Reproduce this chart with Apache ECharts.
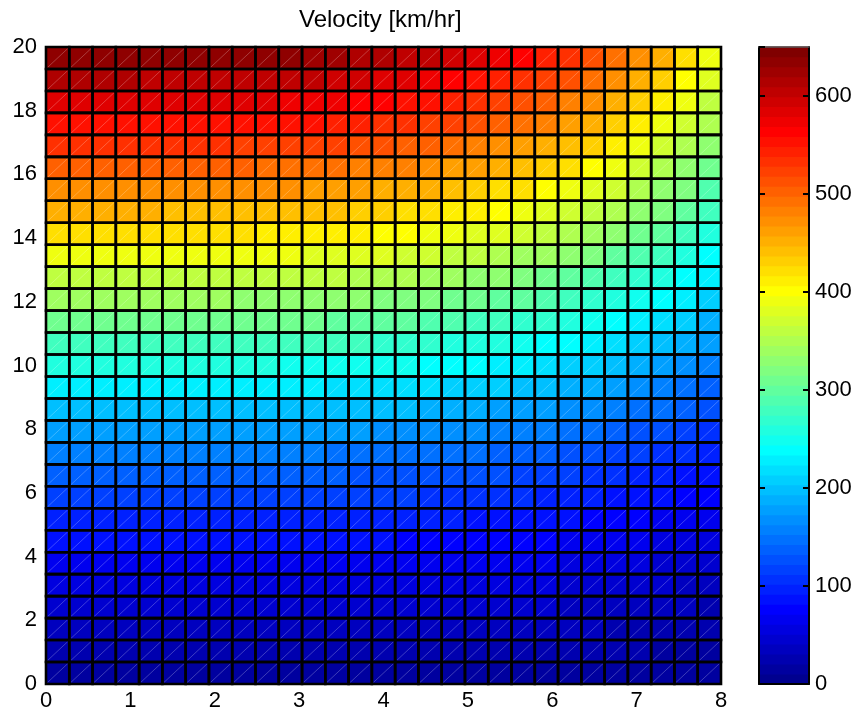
<!DOCTYPE html>
<html><head><meta charset="utf-8">
<script src="https://cdn.jsdelivr.net/npm/echarts@6/dist/echarts.min.js"></script>
<style>html,body{margin:0;padding:0;background:#fff}#c{width:858px;height:715px}</style>
</head><body><div id="c"></div>
<script>
const titleText = 'Velocity [km/hr]';
const xRange = [0, 8];
const yRange = [0, 20];
const colorRange = [0, 650];
const xTickStep = 1;
const yTickStep = 2;
const colorTickStep = 100;
const nCols = 29;
const nRows = 29;
// Velocity per cell, rows from bottom (y=0) to top (y=20), 29 cells each from x=0 to x=8
const velocityRows = [
[20,20,20,20,20,20,20,20,20,20,20,20,20,19,19,19,19,19,18,18,18,17,17,16,16,15,14,13,12],
[29,29,29,29,29,29,29,29,29,29,29,29,28,28,28,28,27,27,27,26,25,25,24,23,23,22,20,19,18],
[38,38,38,38,38,38,38,38,38,38,38,37,37,37,37,36,36,35,35,34,33,33,32,31,29,28,27,25,24],
[48,48,48,48,48,48,48,48,48,48,47,47,47,47,46,46,45,45,44,43,42,41,40,39,37,36,34,32,30],
[59,59,59,59,59,59,59,59,59,58,58,58,58,57,57,56,56,55,54,53,52,51,49,47,46,44,42,39,37],
[71,71,71,71,71,71,71,71,71,70,70,70,69,69,68,68,67,66,65,64,62,61,59,57,55,53,50,47,44],
[85,85,85,85,85,85,85,85,84,84,84,84,83,82,82,81,80,79,78,76,75,73,71,68,66,63,60,57,53],
[100,100,100,100,100,100,100,100,99,99,99,98,98,97,96,95,94,93,91,90,88,86,83,81,78,74,71,67,62],
[117,117,117,117,117,117,117,117,116,116,115,115,114,113,113,112,110,109,107,105,103,100,98,94,91,87,83,78,73],
[136,136,136,136,136,136,136,135,135,135,134,134,133,132,131,130,128,126,124,122,120,117,113,110,106,101,96,90,84],
[156,156,156,156,156,156,156,155,155,155,154,153,152,151,150,149,147,145,143,140,137,134,130,126,121,116,110,104,97],
[178,178,178,178,178,178,177,177,177,176,176,175,174,173,171,170,168,165,163,160,156,153,148,143,138,132,126,118,110],
[202,202,202,202,202,202,201,201,201,200,199,199,197,196,194,193,190,188,185,181,178,173,168,163,157,150,143,134,125],
[228,228,228,228,228,228,227,227,227,226,225,224,223,221,219,217,215,212,208,205,200,195,190,184,177,169,161,152,141],
[256,256,256,256,256,255,255,255,254,254,253,252,250,248,246,244,241,238,234,230,225,219,213,206,199,190,181,170,159],
[283,283,283,283,283,282,282,282,281,280,279,278,276,275,272,270,267,263,259,254,249,243,236,228,220,210,200,188,176],
[310,310,310,310,310,309,309,309,308,307,306,305,303,301,298,295,292,288,283,278,272,266,258,250,241,230,219,206,192],
[337,337,337,337,337,336,336,336,335,334,333,331,329,327,324,321,317,313,308,303,296,289,281,271,261,250,238,224,209],
[364,364,364,364,364,363,363,363,362,361,359,358,356,353,350,347,343,338,333,327,320,312,303,293,282,270,257,242,226],
[392,392,392,392,392,391,391,390,390,388,387,385,383,380,377,374,369,364,358,352,345,336,327,316,304,291,277,261,243],
[420,420,420,420,420,419,419,418,417,416,415,413,410,407,404,400,396,390,384,377,369,360,350,338,326,312,297,279,260],
[447,447,447,447,447,446,446,445,444,443,441,439,437,434,430,426,421,415,409,401,393,383,372,360,347,332,316,297,277],
[474,474,474,474,474,473,473,472,471,470,468,466,463,460,456,452,447,440,433,426,417,406,395,382,368,352,335,315,294],
[502,502,502,502,501,501,500,500,499,497,495,493,490,487,483,478,473,466,459,451,441,430,418,404,390,372,354,334,311],
[531,531,531,531,530,530,529,529,528,526,524,522,519,515,511,506,500,493,485,477,467,455,442,427,412,394,375,353,329],
[558,558,558,558,557,557,556,556,555,553,551,549,545,541,537,532,526,518,510,501,490,478,465,449,433,414,394,371,346],
[585,585,585,585,584,584,583,583,581,580,577,575,572,567,563,558,551,543,535,525,514,501,487,471,454,434,413,389,363],
[610,610,610,610,609,609,608,608,606,605,602,600,596,592,587,581,575,567,558,548,536,523,508,491,473,453,431,406,378],
[638,638,638,638,637,637,636,635,634,632,630,627,623,619,614,608,601,593,583,573,561,547,531,514,495,473,450,424,396]
];

const FONT = 'Liberation Sans, Arial, Helvetica, sans-serif';

// MATLAB jet(64) colormap
function jetColormap(m) {
  const n = Math.ceil(m / 4);
  const u = [];
  for (let k = 1; k <= n; k++) u.push(k / n);
  for (let k = 0; k < n - 1; k++) u.push(1);
  for (let k = n; k >= 1; k--) u.push(k / n);
  const g0 = Math.ceil(n / 2) - (m % 4 === 1 ? 1 : 0);
  const R = new Array(m).fill(0), G = new Array(m).fill(0), B = new Array(m).fill(0);
  for (let p = 0; p < u.length; p++) {
    const g = g0 + p + 1, r = g + n, b = g - n;
    if (g >= 1 && g <= m) G[g - 1] = u[p];
    if (r >= 1 && r <= m) R[r - 1] = u[p];
    if (b >= 1 && b <= m) B[b - 1] = u[p];
  }
  const out = [];
  for (let k = 0; k < m; k++) out.push('rgb(' + Math.round(R[k] * 255) + ',' + Math.round(G[k] * 255) + ',' + Math.round(B[k] * 255) + ')');
  return out;
}
const jet = jetColormap(64);
const band = (colorRange[1] - colorRange[0]) / jet.length;
const pieces = jet.map((c, k) => ({ gte: colorRange[0] + k * band, lt: colorRange[0] + (k + 1) * band, color: c }));
pieces[pieces.length - 1].lte = colorRange[1]; delete pieces[pieces.length - 1].lt;

const cellData = [];
velocityRows.forEach((row, j) => row.forEach((v, i) => cellData.push([i, j, v])));
const dx = (xRange[1] - xRange[0]) / nCols;
const dy = (yRange[1] - yRange[0]) / nRows;

function cellRect(api) {
  const i = api.value(0), j = api.value(1);
  const a = api.coord([xRange[0] + i * dx, yRange[0] + j * dy]);
  const b = api.coord([xRange[0] + (i + 1) * dx, yRange[0] + (j + 1) * dy]);
  return { x: a[0], y: b[1], width: b[0] - a[0], height: a[1] - b[1] };
}

const chart = echarts.init(document.getElementById('c'), null, { renderer: 'canvas' });
chart.setOption({
  backgroundColor: '#fff',
  animation: false,
  textStyle: { fontFamily: FONT },
  title: {
    text: titleText, left: 299, top: 8, padding: 0,
    textStyle: { fontFamily: FONT, fontSize: 24, fontWeight: 'normal', color: '#000' }
  },
  grid: [
    { left: 46, top: 47, width: 675, height: 637 },
    { left: 759, top: 47, width: 50, height: 637 }
  ],
  xAxis: [
    { gridIndex: 0, type: 'value', min: xRange[0], max: xRange[1], interval: xTickStep,
      axisLine: { show: true, onZero: false, lineStyle: { color: '#000', width: 1 } },
      axisTick: { show: false }, splitLine: { show: false },
      axisLabel: { color: '#000', fontSize: 22, margin: 6, fontFamily: FONT } },
    { gridIndex: 1, type: 'value', min: 0, max: 1, position: 'bottom', z: 10,
      axisLine: { show: true, onZero: false, lineStyle: { color: '#000', width: 2 } },
      axisTick: { show: false }, axisLabel: { show: false }, splitLine: { show: false } },
    { gridIndex: 1, type: 'value', min: 0, max: 1, position: 'top', z: 10,
      axisLine: { show: true, onZero: false, lineStyle: { color: '#555', width: 1.5 } },
      axisTick: { show: false }, axisLabel: { show: false }, splitLine: { show: false } }
  ],
  yAxis: [
    { gridIndex: 0, type: 'value', min: yRange[0], max: yRange[1], interval: yTickStep,
      axisLine: { show: true, onZero: false, lineStyle: { color: '#000', width: 1 } },
      axisTick: { show: false }, splitLine: { show: false },
      axisLabel: { color: '#000', fontSize: 22, margin: 9, fontFamily: FONT } },
    { gridIndex: 1, type: 'value', min: colorRange[0], max: colorRange[1], interval: colorTickStep, position: 'right', z: 10,
      axisLine: { show: true, onZero: false, lineStyle: { color: '#000', width: 2 } },
      axisTick: { show: true, inside: true, length: 6, lineStyle: { color: '#000', width: 2 } },
      splitLine: { show: false },
      axisLabel: { color: '#000', fontSize: 22, margin: 6, fontFamily: FONT, showMaxLabel: false,
        formatter: v => (v % colorTickStep === 0 ? String(v) : '') } },
    { gridIndex: 1, type: 'value', min: colorRange[0], max: colorRange[1], interval: colorTickStep, position: 'left', z: 10,
      axisLine: { show: true, onZero: false, lineStyle: { color: '#000', width: 2 } },
      axisTick: { show: true, inside: true, length: 6, lineStyle: { color: '#000', width: 2 } },
      splitLine: { show: false }, axisLabel: { show: false } }
  ],
  visualMap: {
    type: 'piecewise', show: false, dimension: 2, seriesIndex: 0, pieces: pieces
  },
  series: [
    {
      type: 'custom', xAxisIndex: 0, yAxisIndex: 0, z: 2,
      data: cellData, encode: { x: 0, y: 1 },
      renderItem: (params, api) => {
        const r = cellRect(api);
        return {
          type: 'group', children: [
            { type: 'rect', shape: { x: r.x - 0.3, y: r.y - 0.3, width: r.width + 0.6, height: r.height + 0.6 },
              style: { fill: api.visual('color') } },
            { type: 'line', shape: { x1: r.x + 1.5, y1: r.y + r.height - 1.5, x2: r.x + r.width - 1.5, y2: r.y + 1.5 },
              style: { stroke: 'rgba(255,255,255,0.3)', lineWidth: 0.8 } }
          ]
        };
      }
    },
    {
      type: 'custom', xAxisIndex: 0, yAxisIndex: 0, z: 3,
      data: cellData, encode: { x: 0, y: 1 },
      renderItem: (params, api) => {
        const r = cellRect(api);
        return { type: 'rect', shape: r, style: { fill: null, stroke: '#000', lineWidth: 2.6 } };
      }
    },
    {
      type: 'custom', xAxisIndex: 1, yAxisIndex: 1, z: 2,
      data: jet.map((c, k) => [k]), encode: { y: 0 },
      renderItem: (params, api) => {
        const k = api.value(0);
        const a = api.coord([0, colorRange[0] + k * band]);
        const b = api.coord([1, colorRange[0] + (k + 1) * band]);
        return { type: 'rect', shape: { x: a[0], y: b[1] - 0.4, width: b[0] - a[0], height: a[1] - b[1] + 0.8 },
          style: { fill: jet[k] } };
      }
    }
  ]
});
</script></body></html>
